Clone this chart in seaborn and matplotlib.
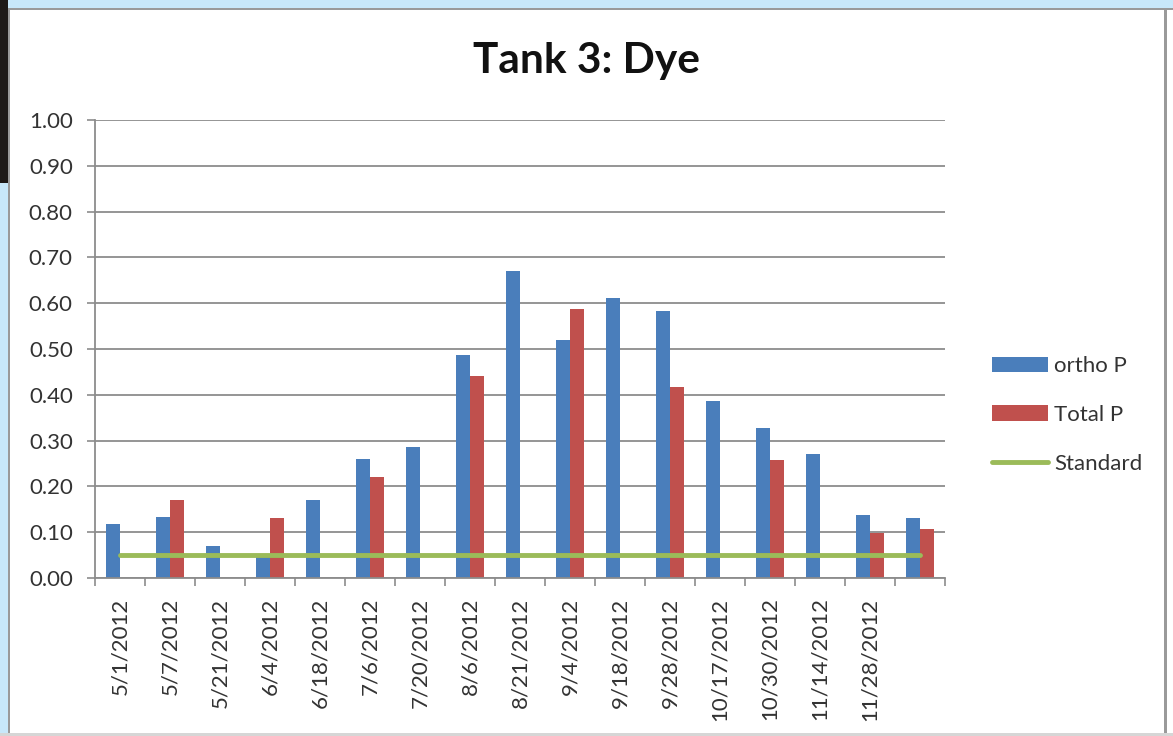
import numpy as np
import pandas as pd
import matplotlib
matplotlib.use("Agg")
import matplotlib.pyplot as plt
from matplotlib.patches import Patch, Rectangle
from matplotlib.lines import Line2D
from matplotlib.ticker import FormatStrFormatter
import seaborn as sns

# Sampling dates (the last sample carries no date label)
dates = ["5/1/2012", "5/7/2012", "5/21/2012", "6/4/2012", "6/18/2012",
         "7/6/2012", "7/20/2012", "8/6/2012", "8/21/2012", "9/4/2012",
         "9/18/2012", "9/28/2012", "10/17/2012", "10/30/2012", "11/14/2012",
         "11/28/2012", ""]

ortho_p = [0.118, 0.133, 0.070, 0.050, 0.170, 0.260, 0.285, 0.487, 0.670,
           0.520, 0.612, 0.583, 0.387, 0.328, 0.270, 0.138, 0.130]

total_p = [np.nan, 0.170, np.nan, 0.130, np.nan, 0.220, np.nan, 0.440, np.nan,
           0.587, np.nan, 0.417, np.nan, 0.258, np.nan, 0.098, 0.108]

standard = [0.05, 0.05, 0.05, 0.05, 0.05, 0.05, 0.05, 0.05, 0.05,
            0.05, 0.05, 0.05, 0.05, 0.05, 0.05, 0.05, 0.05]

series_names = ["ortho P", "Total P"]
BLUE = "#4a7ebb"
RED = "#c0504d"
GREEN = "#9bbb59"

df = pd.DataFrame({
    "date": dates * 2,
    "series": [series_names[0]] * len(dates) + [series_names[1]] * len(dates),
    "value": ortho_p + total_p,
})

sns.set_theme(style="white")
plt.rcParams["font.family"] = ["Lato", "DejaVu Sans"]

fig = plt.figure(figsize=(11.73, 7.36), dpi=100)
fig.patch.set_facecolor("white")
ax = fig.add_axes([95 / 1173, 1 - 578 / 736, 850 / 1173, 458 / 736])

sns.barplot(data=df, x="date", y="value", hue="series", order=dates,
            hue_order=series_names, palette=[BLUE, RED], width=0.56,
            saturation=1, errorbar=None, legend=False, ax=ax, linewidth=0)

sns.lineplot(x=np.arange(len(dates)), y=standard, color=GREEN, linewidth=3.5,
             ax=ax, legend=False)

ax.set_xlim(-0.5, len(dates) - 0.5)
ax.set_ylim(0, 1.0)
ax.set_yticks(np.arange(0, 1.01, 0.1))
ax.yaxis.set_major_formatter(FormatStrFormatter("%.2f"))
ax.grid(axis="y", color="#8c8c8c", linewidth=1.3)
ax.set_axisbelow(True)
ax.set_xlabel("")
ax.set_ylabel("")

ax.set_xticks(np.arange(len(dates)))
ax.set_xticklabels(dates, rotation=90, va="top", ha="center")
ax.set_xticks(np.arange(-0.5, len(dates), 1), minor=True)
ax.tick_params(axis="x", which="major", length=0, pad=14, labelsize=16,
               labelcolor="#333333")
ax.tick_params(axis="x", which="minor", length=6, width=1.2, color="#8c8c8c",
               bottom=True)
ax.tick_params(axis="y", length=6, width=1.2, color="#8c8c8c", left=True,
               pad=10, labelsize=16, labelcolor="#333333")

for side in ("top", "right"):
    ax.spines[side].set_visible(False)
for side in ("left", "bottom"):
    ax.spines[side].set_color("#8c8c8c")
    ax.spines[side].set_linewidth(1.3)

handles = [Patch(facecolor=BLUE, edgecolor="none"),
           Patch(facecolor=RED, edgecolor="none"),
           Line2D([0], [0], color=GREEN, linewidth=3.5)]
ax.legend(handles, ["ortho P", "Total P", "Standard"], loc="center left",
          bbox_to_anchor=(1.045, 0.356), frameon=False, fontsize=16,
          handlelength=2.5, handletextpad=0.3, labelspacing=1.3,
          borderaxespad=0, labelcolor="#333333")

fig.text(0.5, 1 - 61 / 736, "Tank 3: Dye", ha="center", va="center",
         fontsize=30.5, fontweight="bold", color="#111111")

# Window frame around the chart
frame = [
    (0, 1 - 8 / 736, 1, 8 / 736, "#c8e8fa"),
    (0, 1 - 10 / 736, 1, 2 / 736, "#9a9a9a"),
    (0, 0, 8 / 1173, 1 - 183 / 736, "#c8e8fa"),
    (0, 1 - 183 / 736, 8 / 1173, 183 / 736, "#1e1a18"),
    (8 / 1173, 0, 2 / 1173, 1 - 10 / 736, "#9a9a9a"),
    (1164 / 1173, 0, 3 / 1173, 1 - 10 / 736, "#9a9a9a"),
    (0, 0, 1, 3 / 736, "#d6d6d6"),
]
for x0, y0, w, h, c in frame:
    fig.patches.append(Rectangle((x0, y0), w, h, transform=fig.transFigure,
                                 facecolor=c, edgecolor="none", zorder=10))

fig.savefig("out.png", dpi=100)
